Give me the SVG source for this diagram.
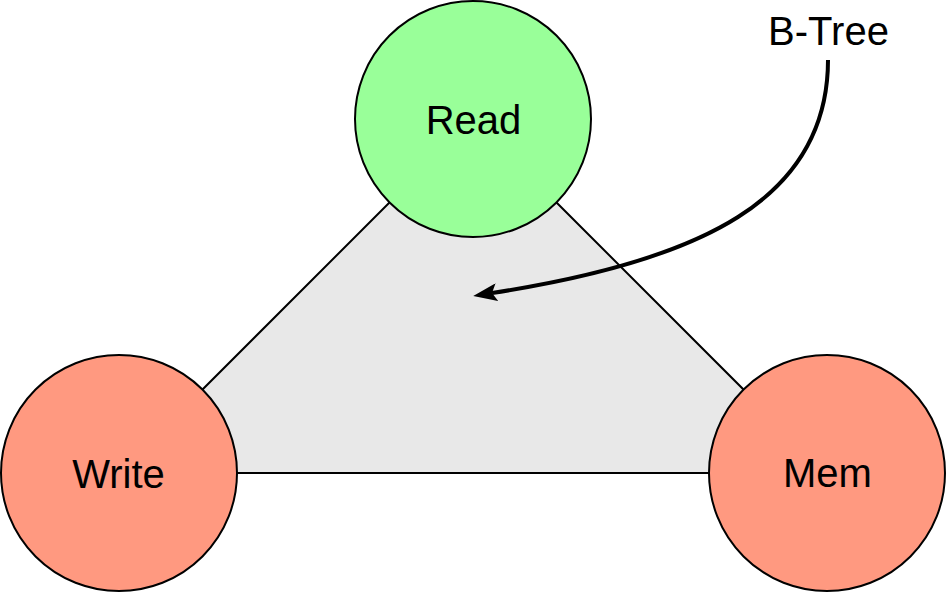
<svg xmlns="http://www.w3.org/2000/svg" width="947" height="592" viewBox="0 0 947 592">
<style>
.node{stroke:#000;stroke-width:2}
.lbl{font-family:"Liberation Sans",Arial,sans-serif;font-size:40px;fill:#000;text-anchor:middle}
.edge{fill:none;stroke:#000;stroke-width:4}
</style>
<defs>
<marker id="arrow" markerUnits="userSpaceOnUse" markerWidth="24" markerHeight="18" viewBox="0 0 24 18" refX="5" refY="9" orient="auto">
<path d="M0,0 L24,9 L0,18 L5,9 z" fill="#000"/>
</marker>
</defs>
<rect width="947" height="592" fill="#fff"/>
<g id="triangle">
<polygon points="473,119 827,473 119,473" fill="#e8e8e8" stroke="#000" stroke-width="2"/>
</g>
<g id="read">
<circle class="node" cx="473" cy="119" r="118" fill="#99ff99"/>
<text class="lbl" x="473.5" y="134">Read</text>
</g>
<g id="write">
<circle class="node" cx="119" cy="473" r="118" fill="#ff9980"/>
<text class="lbl" x="118.5" y="487.5">Write</text>
</g>
<g id="mem">
<circle class="node" cx="827" cy="473" r="118" fill="#ff9980"/>
<text class="lbl" x="827.5" y="487">Mem</text>
</g>
<g id="btree">
<text class="lbl" x="828.5" y="45">B-Tree</text>
</g>
<g id="connectors">
<path class="edge" d="M828,60 C828,200 700,261 492,293" marker-end="url(#arrow)"/>
</g>
</svg>
